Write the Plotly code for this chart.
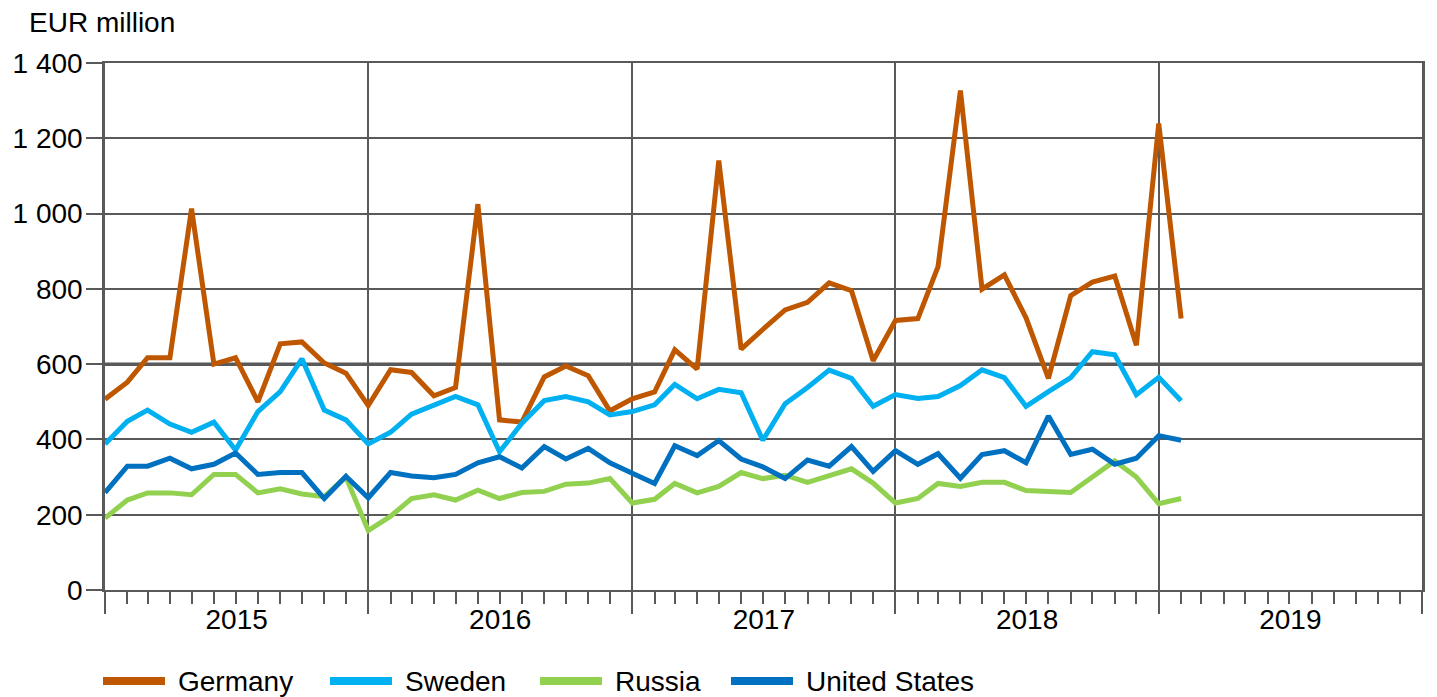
import pandas as pd
import plotly.graph_objects as go

# ---- data (EUR million, monthly, Jan 2015 - Feb 2019) ----
start_month = "2015-01-01"
n_months = 50
months = pd.date_range(start_month, periods=n_months, freq="MS")

germany = [507, 552, 617, 617, 1013, 600, 617, 500, 654, 659, 603, 576,
           490, 585, 578, 516, 538, 1025, 452, 446, 566, 595, 569, 476,
           508, 526, 638, 587, 1141, 640, 692, 744, 764, 816, 795, 609,
           716, 721, 859, 1327, 799, 837, 723, 562, 782, 818, 834, 650,
           1239, 721]
sweden = [388, 448, 478, 441, 419, 446, 372, 474, 527, 614, 478, 452,
          388, 419, 467, 492, 514, 492, 367, 443, 503, 514, 500, 465,
          474, 492, 546, 508, 533, 524, 398, 495, 538, 584, 562, 488,
          519, 509, 514, 543, 585, 564, 488, 527, 564, 633, 625, 519,
          565, 503]
russia = [191, 239, 258, 258, 253, 307, 307, 258, 269, 255, 248, 300,
          158, 196, 243, 253, 239, 265, 243, 259, 262, 281, 284, 296,
          231, 241, 283, 258, 275, 312, 296, 305, 286, 303, 322, 284,
          231, 243, 283, 275, 286, 286, 264, 262, 259, 300, 343, 300,
          229, 243]
united_states = [259, 329, 329, 350, 322, 334, 364, 307, 312, 312, 243, 302,
                 245, 312, 303, 298, 307, 338, 354, 324, 381, 348, 376, 338,
                 310, 283, 383, 357, 397, 348, 327, 296, 345, 329, 381, 315,
                 370, 334, 362, 297, 360, 370, 338, 462, 360, 374, 334, 350,
                 410, 398]

series_names = ["Germany", "Sweden", "Russia", "United States"]
series_values = [germany, sweden, russia, united_states]
series_colors = ["#BF5700", "#00B0F0", "#92D050", "#0070C0"]

y_tickvals = [0, 200, 400, 600, 800, 1000, 1200, 1400]
y_ticktext = ["0", "200", "400", "600", "800", "1 000", "1 200", "1 400"]
y_unit = "EUR million"

# ---- figure ----
GRID = "#595959"
FONT = "Liberation Sans, Arial, sans-serif"
OFF = 8  # page body margin
W, H = 1437 - OFF, 697 - OFF
ML, MT = 105 - OFF, 63 - OFF
MR = W - (1422 - OFF)
MB = H - (590 - OFF)
PW, PH = W - ML - MR, H - MT - MB


def px_x(px):
    return (px - OFF - ML) / PW


def px_y(py):
    return (MT + PH - (py - OFF)) / PH


fig = go.Figure()
for name, vals, col in zip(series_names, series_values, series_colors):
    fig.add_trace(go.Scatter(x=months, y=vals, name=name, mode="lines",
                             line=dict(color=col, width=5),
                             showlegend=False))

# thicker line at 600
fig.add_shape(type="line", xref="paper", yref="y", x0=0, x1=1, y0=600, y1=600,
              line=dict(color=GRID, width=3.5), layer="below")

# custom legend (long line samples)
legend_sym_px = [103, 330, 540, 731]
sym_len = 62
leg_y = px_y(681)
for name, col, sx in zip(series_names, series_colors, legend_sym_px):
    fig.add_shape(type="line", xref="paper", yref="paper",
                  x0=px_x(sx), x1=px_x(sx + sym_len),
                  y0=leg_y, y1=leg_y, line=dict(color=col, width=8))
    fig.add_annotation(xref="paper", yref="paper", x=px_x(sx + sym_len + 11),
                       y=leg_y, text=name, showarrow=False, xanchor="left",
                       yanchor="middle", font=dict(size=28, color="black", family=FONT))

fig.update_layout(
    width=W, height=H,
    margin=dict(l=ML, r=MR, t=MT, b=MB, pad=0, autoexpand=False),
    paper_bgcolor="white", plot_bgcolor="white",
    font=dict(family=FONT, size=28, color="black"),
    showlegend=False,
    title=dict(text=y_unit, xref="container", yref="container",
               x=(29 - OFF) / W, xanchor="left",
               y=1 - (22 - OFF) / H, yanchor="middle",
               font=dict(size=28, color="black", family=FONT)),
    xaxis=dict(type="date", range=["2015-01-01", "2020-01-01"], automargin=False,
               tick0="2015-01-01", dtick="M12", tickformat="%Y",
               ticklabelmode="period", ticks="outside", ticklen=22,
               tickwidth=2, tickcolor=GRID, ticklabelstandoff=-19,
               showgrid=True, gridcolor=GRID, gridwidth=1.8,
               showline=True, linecolor=GRID, linewidth=2, mirror=True,
               zeroline=False,
               minor=dict(dtick="M1", ticks="outside", ticklen=12, tickwidth=2,
                          tickcolor=GRID, showgrid=False),
               tickfont=dict(size=28, color="black", family=FONT)),
    yaxis=dict(range=[0, 1400], tickvals=y_tickvals, ticktext=y_ticktext,
               automargin=False, ticklabelstandoff=-2,
               ticks="outside", ticklen=16, tickwidth=2, tickcolor=GRID,
               showgrid=True, gridcolor=GRID, gridwidth=1.8,
               showline=True, linecolor=GRID, linewidth=2.5, mirror=True,
               zeroline=False,
               tickfont=dict(size=28, color="black", family=FONT)),
)

fig.write_html("out.html")
